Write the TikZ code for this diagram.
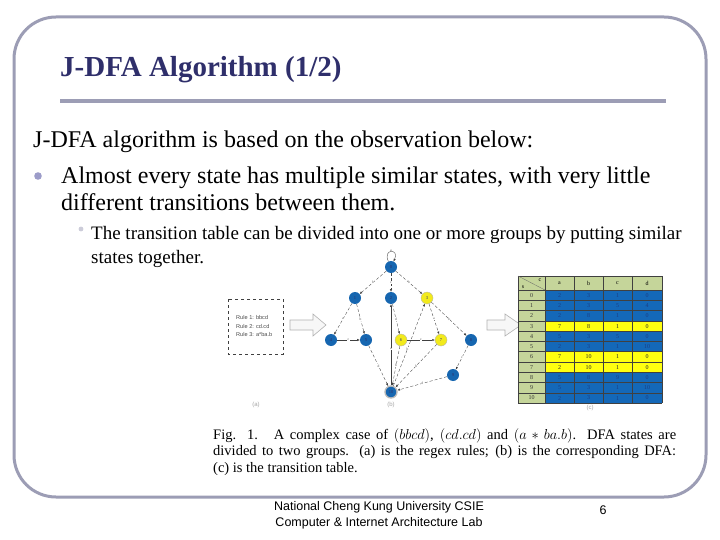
\documentclass[tikz,border=0pt]{standalone}
\usepackage{fontspec}
\setmainfont{Liberation Serif}
\setsansfont{Liberation Sans}
\usetikzlibrary{arrows.meta}
\definecolor{framec}{HTML}{9C9DB5}
\definecolor{titlec}{HTML}{2F2F6B}
\definecolor{nblue}{HTML}{1666B0}
\definecolor{nyel}{HTML}{F2EA1C}
\definecolor{tgreen}{HTML}{C5D59A}
\definecolor{tblue}{HTML}{1468B8}
\definecolor{tyel}{HTML}{FFFF10}
\definecolor{celltxt}{HTML}{1A3E85}
\begin{document}
\begin{tikzpicture}[x=1pt,y=-1pt,
  st/.style={circle, fill=nblue, minimum size=12pt, inner sep=0pt, font=\fontsize{4.5}{4.5}\selectfont, text=titlec},
  ys/.style={st, fill=nyel, draw=gray!60, line width=0.3pt},
  ed/.style={-{Latex[length=2.6pt,width=2.2pt]}, line width=0.35pt, draw=black!75, densely dashed},
  eds/.style={ed, solid},
  lb/.style={font=\fontsize{3.6}{3.6}\selectfont, text=black!70, fill=white, inner sep=0.3pt},
  body/.style={anchor=base west, inner sep=0pt, font=\fontsize{24}{30}\selectfont},
  sub/.style={anchor=base west, inner sep=0pt, font=\fontsize{19}{22}\selectfont},
  hollow/.style={draw=gray!60, fill=gray!6, line width=0.6pt},
  cellt/.style={font=\fontsize{6}{6}\selectfont, inner sep=0pt},
  capt/.style={font=\fontsize{6}{6}\selectfont\sffamily, text=gray!70, inner sep=0pt}
]
\useasboundingbox (0,0) rectangle (720,540);
\fill[white] (0,0) rectangle (720,540);

% slide frame
\draw[framec, line width=3pt, rounded corners=42pt] (14,17) rectangle (706,497);

% title
\node[anchor=base west, inner sep=0pt, text=titlec, font=\fontsize{29}{32}\selectfont\bfseries] (title) at (60,77) {J-DFA Algorithm (1/2)};
\fill[framec] (60,99) rectangle (666,103.5);

% body text
\node[body] (l1) at (33,148) {J-DFA algorithm is based on the observation below:};
\fill[gray!70!blue!60] (38,176) circle (3.8pt);
\node[body] (l2) at (61,184) {Almost every state has multiple similar states, with very little};
\node[body] (l3) at (61,211) {different transitions between them.};
\fill[blue!15!gray!35] (81,229) circle (2.4pt);
\node[sub] (l4) at (91,240) {The transition table can be divided into one or more groups by putting similar};
\node[sub] (l5) at (91,263) {states together.};

% (a) rules box
\draw[black!75, dashed, line width=0.8pt] (228,299) rectangle (283,354);
\node[anchor=west, inner sep=0pt, align=left, font=\fontsize{5.6}{8.6}\selectfont\sffamily, text=black!70] (rules) at (236,326) {Rule 1: bbcd\\Rule 2: cd.cd\\Rule 3: a*ba.b};
\node[capt] (capa) at (256,405) {(a)};

% hollow arrows
\draw[hollow] (290,320) -- (313,320) -- (313,314) -- (326,325) -- (313,336) -- (313,330) -- (290,330) -- cycle;
\draw[hollow] (487,320) -- (505,320) -- (505,314) -- (521,325) -- (505,336) -- (505,330) -- (487,330) -- cycle;

% (b) DFA
\node[st] (n0) at (391,267) {0};
\node[st] (n1) at (355,298) {1};
\node[st] (n2) at (391,298) {2};
\node[ys] (n3) at (427,298) {3};
\node[st] (n4) at (331,340) {4};
\node[st] (n5) at (366,340) {5};
\node[ys] (n6) at (401,340) {6};
\node[ys] (n7) at (441,340) {7};
\node[st] (n8) at (471,340) {8};
\node[st] (n9) at (453,375) {9};
\node[st, draw=gray!55, line width=1.3pt] (n10) at (391,392) {10};

\draw[ed, solid] (n0) to[out=115,in=65,looseness=7] node[lb,above, fill=none]{a} (n0);
\draw[ed] (n0) -- node[lb]{b} (n1);
\draw[ed] (n0) -- node[lb]{c} (n2);
\draw[ed] (n0) -- node[lb]{b} (n3);
\draw[ed] (n1) -- node[lb]{a} (n4);
\draw[ed] (n1) -- node[lb]{b} (n5);
\draw[ed] (n2) -- node[lb]{d} (n6);
\draw[ed] (n3) -- node[lb]{a} (n7);
\draw[ed] (n3) -- node[lb]{b} (n8);
\draw[eds] (n4) -- node[lb]{c} (n5);
\draw[eds] (n6) -- node[lb]{c} (n7);
\draw[ed] (n8) -- node[lb]{c} (n9);
\draw[ed] (n5) -- node[lb]{d} (n10);
\draw[eds] (n10) -- node[lb, pos=0.45]{a} (n2);
\draw[ed] (n6) -- node[lb]{b} (n10);
\draw[ed] (n10) -- node[lb, pos=0.45]{b} (n3);
\draw[ed] (n7) -- node[lb]{b} (n10);
\draw[ed] (n9) -- node[lb]{d} (n10);
\node[capt] (capb) at (391,405) {(b)};

% (c) transition table
\fill[tgreen] (518,276) rectangle (662,290);
\fill[tgreen] (518,290) rectangle (545,403);
\foreach \va/\vb/\vc/\vd/\cl/\tc [count=\i from 0] in {
  2/3/1/0/tblue/celltxt, 2/3/5/4/tblue/celltxt, 2/8/1/0/tblue/celltxt,
  7/8/1/0/tyel/black!85, 5/3/5/0/tblue/celltxt, 2/3/1/10/tblue/celltxt,
  7/10/1/0/tyel/black!85, 2/10/1/0/tyel/black!85, 5/8/9/0/tblue/celltxt,
  5/3/1/10/tblue/celltxt, 2/3/1/0/tblue/celltxt}{
  \pgfmathsetmacro{\yt}{290+\i*10.2727}
  \pgfmathsetmacro{\yc}{\yt+5.3}
  \fill[\cl] (545,\yt) rectangle (662,\yt+10.2727);
  \draw[black!75, line width=0.4pt] (518,\yt) -- (662,\yt);
  \node[cellt, text=black!80] (s\i) at (531.5,\yc) {\i};
  \node[cellt, text=\tc] (a\i) at (559.5,\yc) {\va};
  \node[cellt, text=\tc] (b\i) at (588.5,\yc) {\vb};
  \node[cellt, text=\tc] (c\i) at (617.5,\yc) {\vc};
  \node[cellt, text=\tc] (d\i) at (647,\yc) {\vd};
}
\foreach \x in {518,545,574,603,632,662}{
  \draw[black!75, line width=0.4pt] (\x,276) -- (\x,403);
}
\draw[black!75, line width=0.4pt] (518,276) -- (662,276) (518,403) -- (662,403);
\draw[black!60, line width=0.3pt] (518,276) -- (545,290);
\node[cellt] (hs) at (523,287) {s};
\node[cellt] (hc) at (540,280.5) {c};
\node[cellt] (ha) at (559.5,283) {a};
\node[cellt] (hb) at (588.5,283) {b};
\node[cellt] (hcc) at (617.5,283) {c};
\node[cellt] (hd) at (647,283) {d};
\node[capt] (capc) at (590,408) {(c)};

% figure caption
\node[anchor=north west, inner sep=0pt, text width=463pt, align=justify, font=\fontsize{14.5}{16.5}\selectfont] (figcap) at (213,428)
{Fig. 1.\hspace{1.1em}A complex case of $(bbcd)$, $(cd.cd)$ and $(a*ba.b)$. DFA states are\linebreak divided to two groups. (a) is the regex rules; (b) is the corresponding DFA:\linebreak (c) is the transition table.};

% footer
\node[align=center, inner sep=0pt, font=\fontsize{12.5}{16}\selectfont\sffamily] (foot) at (379,515) {National Cheng Kung University CSIE\\Computer \& Internet Architecture Lab};
\node[inner sep=0pt, font=\fontsize{12.5}{16}\selectfont\sffamily] (pg) at (603,510) {6};
\end{tikzpicture}
\end{document}
